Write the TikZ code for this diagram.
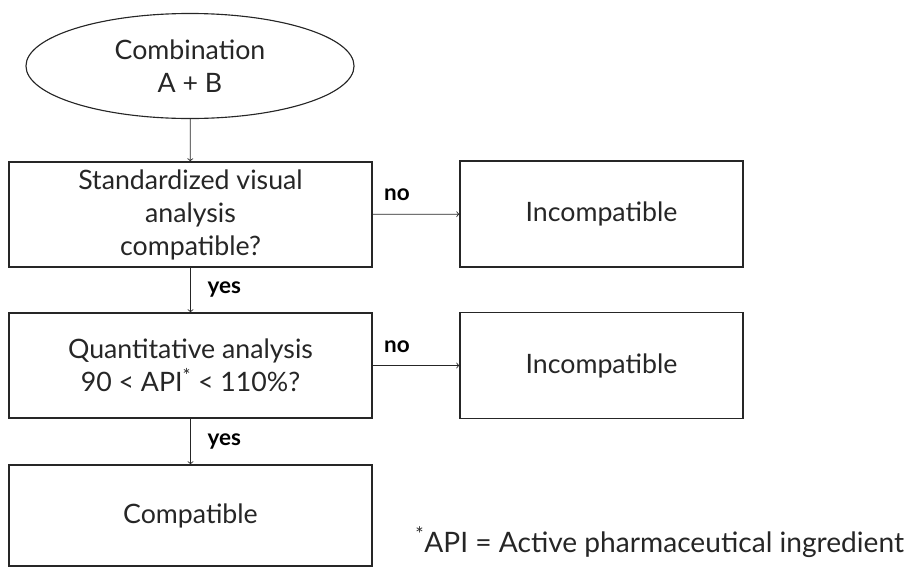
\documentclass[tikz,border=0pt]{standalone}
\usepackage{fontspec}
\setmainfont{Lato}
\usetikzlibrary{positioning}
\usetikzlibrary{shapes}
\usetikzlibrary{arrows}

\begin{document}
\begin{tikzpicture}[x=0.025cm, y=-0.025cm,
    every node/.style={text=black!85, font=\fontsize{19}{23.5}\selectfont},
    box/.style={draw=black!85, line width=0.8pt, rectangle, align=center, inner sep=0},
    decide/.style={box, minimum width=9.075cm, minimum height=2.625cm},
    result/.style={box, minimum width=7.075cm, minimum height=2.65cm},
    flow/.style={->, draw=black!85, line width=0.6pt},
    answer/.style={font=\fontsize{16}{18}\bfseries, text=black}]
    \useasboundingbox (0,0) rectangle (905,567);

    \node[ellipse, draw=black!85, line width=0.8pt, align=center, inner sep=0,
          minimum width=8.2cm, minimum height=2.625cm] (start) at (190,66)
          {Combination\\A + B};
    \node[decide] (visual) at (190.5,214.5) {Standardized visual\\analysis\\compatible?};
    \node[decide] (quant)  at (190.5,365.5) {Quantitative analysis\\90 < API\textsuperscript{*} < 110\%?};
    \node[box, minimum width=9.075cm, minimum height=2.525cm] (compat) at (190.5,515.5) {Compatible};
    \node[result] (incompA) at (601.5,214) {Incompatible};
    \node[result] (incompB) at (601.5,365.5) {Incompatible};

    \draw[flow] (start) -- (visual);
    \draw[flow] (visual) -- node[answer, right=0.3cm] (yesA) {yes} (quant);
    \draw[flow] (quant) -- node[answer, right=0.3cm] (yesB) {yes} (compat);
    \draw[flow] (visual) -- node[answer, above=0.2cm, pos=0.28] (noA) {no} (incompA);
    \draw[flow] (quant) -- node[answer, above=0.2cm, pos=0.28] (noB) {no} (incompB);

    \node[anchor=base west, inner sep=0, font=\fontsize{20}{24}\selectfont] (note) at (415,552)
        {\textsuperscript{*}API = Active pharmaceutical ingredient};
\end{tikzpicture}
\end{document}
